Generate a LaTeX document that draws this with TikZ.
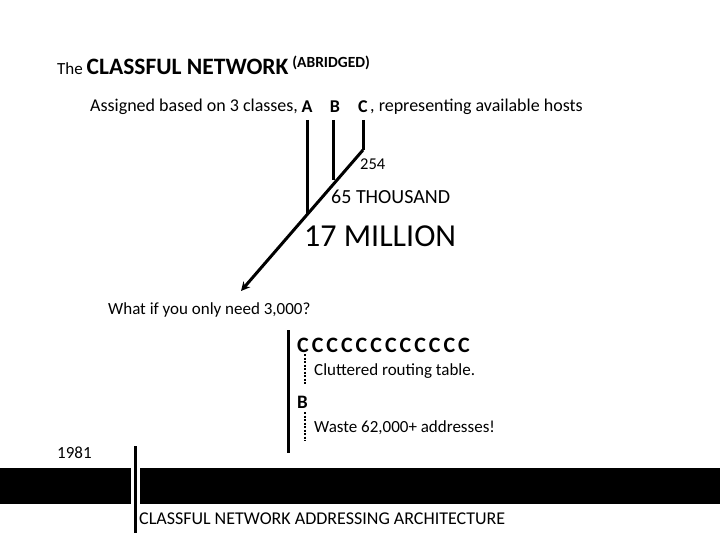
\documentclass[tikz,border=0pt]{standalone}
\usepackage{fontspec}
\setmainfont{Carlito}
\usetikzlibrary{arrows.meta}
\begin{document}
\begin{tikzpicture}[x=1pt,y=-1pt,
  t/.style={anchor=west,inner sep=0pt},
  f/.style={font=\fontsize{#1}{#1}\selectfont},
  ln/.style={line width=3pt},
  dl/.style={line width=1.3pt,dash pattern=on 2pt off 1.5pt}]
\useasboundingbox (0,0) rectangle (720,540);
\fill[black] (0,468) rectangle (131,504);
\fill[black] (140,468) rectangle (720,504);
\node[t,f=17] (ti) at (57,65) {The \textbf{\fontsize{23.5}{25}\selectfont CLASSFUL NETWORK} \raisebox{7pt}{\textbf{\fontsize{15.5}{17}\selectfont (ABRIDGED)}}};
\node[t,f=18] (l2) at (90,107) {Assigned based on 3 classes,};
\node[f=18,inner sep=0pt] (la) at (307,107) {\textbf{A}};
\node[f=18,inner sep=0pt] (lb) at (335,107) {\textbf{B}};
\node[f=18,inner sep=0pt] (lc) at (363,107) {\textbf{C}};
\node[t,f=18] (l3) at (370,107) {, representing available hosts};
\coordinate (c0) at (363,120); \coordinate (c1) at (363,150);
\coordinate (b0) at (333,120); \coordinate (b1) at (333,180);
\coordinate (a0) at (307,120); \coordinate (a1) at (307,214);
\coordinate (tip) at (241,291);
\draw[ln] (c0)--(c1); \draw[ln] (b0)--(b1); \draw[ln] (a0)--(a1);
\draw[ln,-{Stealth[length=9pt,width=9pt]}] (c1)--(tip);
\node[t,f=16.5] (n254) at (360,164) {254};
\node[t,f=20] (n65) at (331,197) {65 THOUSAND};
\node[t,f=32] (n17) at (304,236) {17 MILLION};
\node[t,f=17] (q) at (108,310) {What if you only need 3,000?};
\node[t,f=22] (cs) at (297,345) {\textbf{C\hspace{3pt}C\hspace{3pt}C\hspace{3pt}C\hspace{3pt}C\hspace{3pt}C\hspace{3pt}C\hspace{3pt}C\hspace{3pt}C\hspace{3pt}C\hspace{3pt}C\hspace{3pt}C}};
\node[t,f=17] (cl) at (314,371) {Cluttered routing table.};
\node[t,f=19] (bb) at (297,402) {\textbf{B}};
\node[t,f=17] (wa) at (314,428) {Waste 62,000+ addresses!};
\node[t,f=17] (yr) at (57,453) {1981};
\node[t,f=18] (ar) at (139,519) {CLASSFUL NETWORK ADDRESSING ARCHITECTURE};
\coordinate (v0) at (288,330); \coordinate (v1) at (288,453);
\draw[ln] (v0)--(v1);
\coordinate (d0) at (305,354); \coordinate (d1) at (305,385);
\coordinate (e0) at (305,412); \coordinate (e1) at (305,441);
\draw[dl] (d0)--(d1); \draw[dl] (e0)--(e1);
\coordinate (y0) at (135,446); \coordinate (y1) at (135,533);
\draw[ln] (y0)--(y1);
\end{tikzpicture}
\end{document}
